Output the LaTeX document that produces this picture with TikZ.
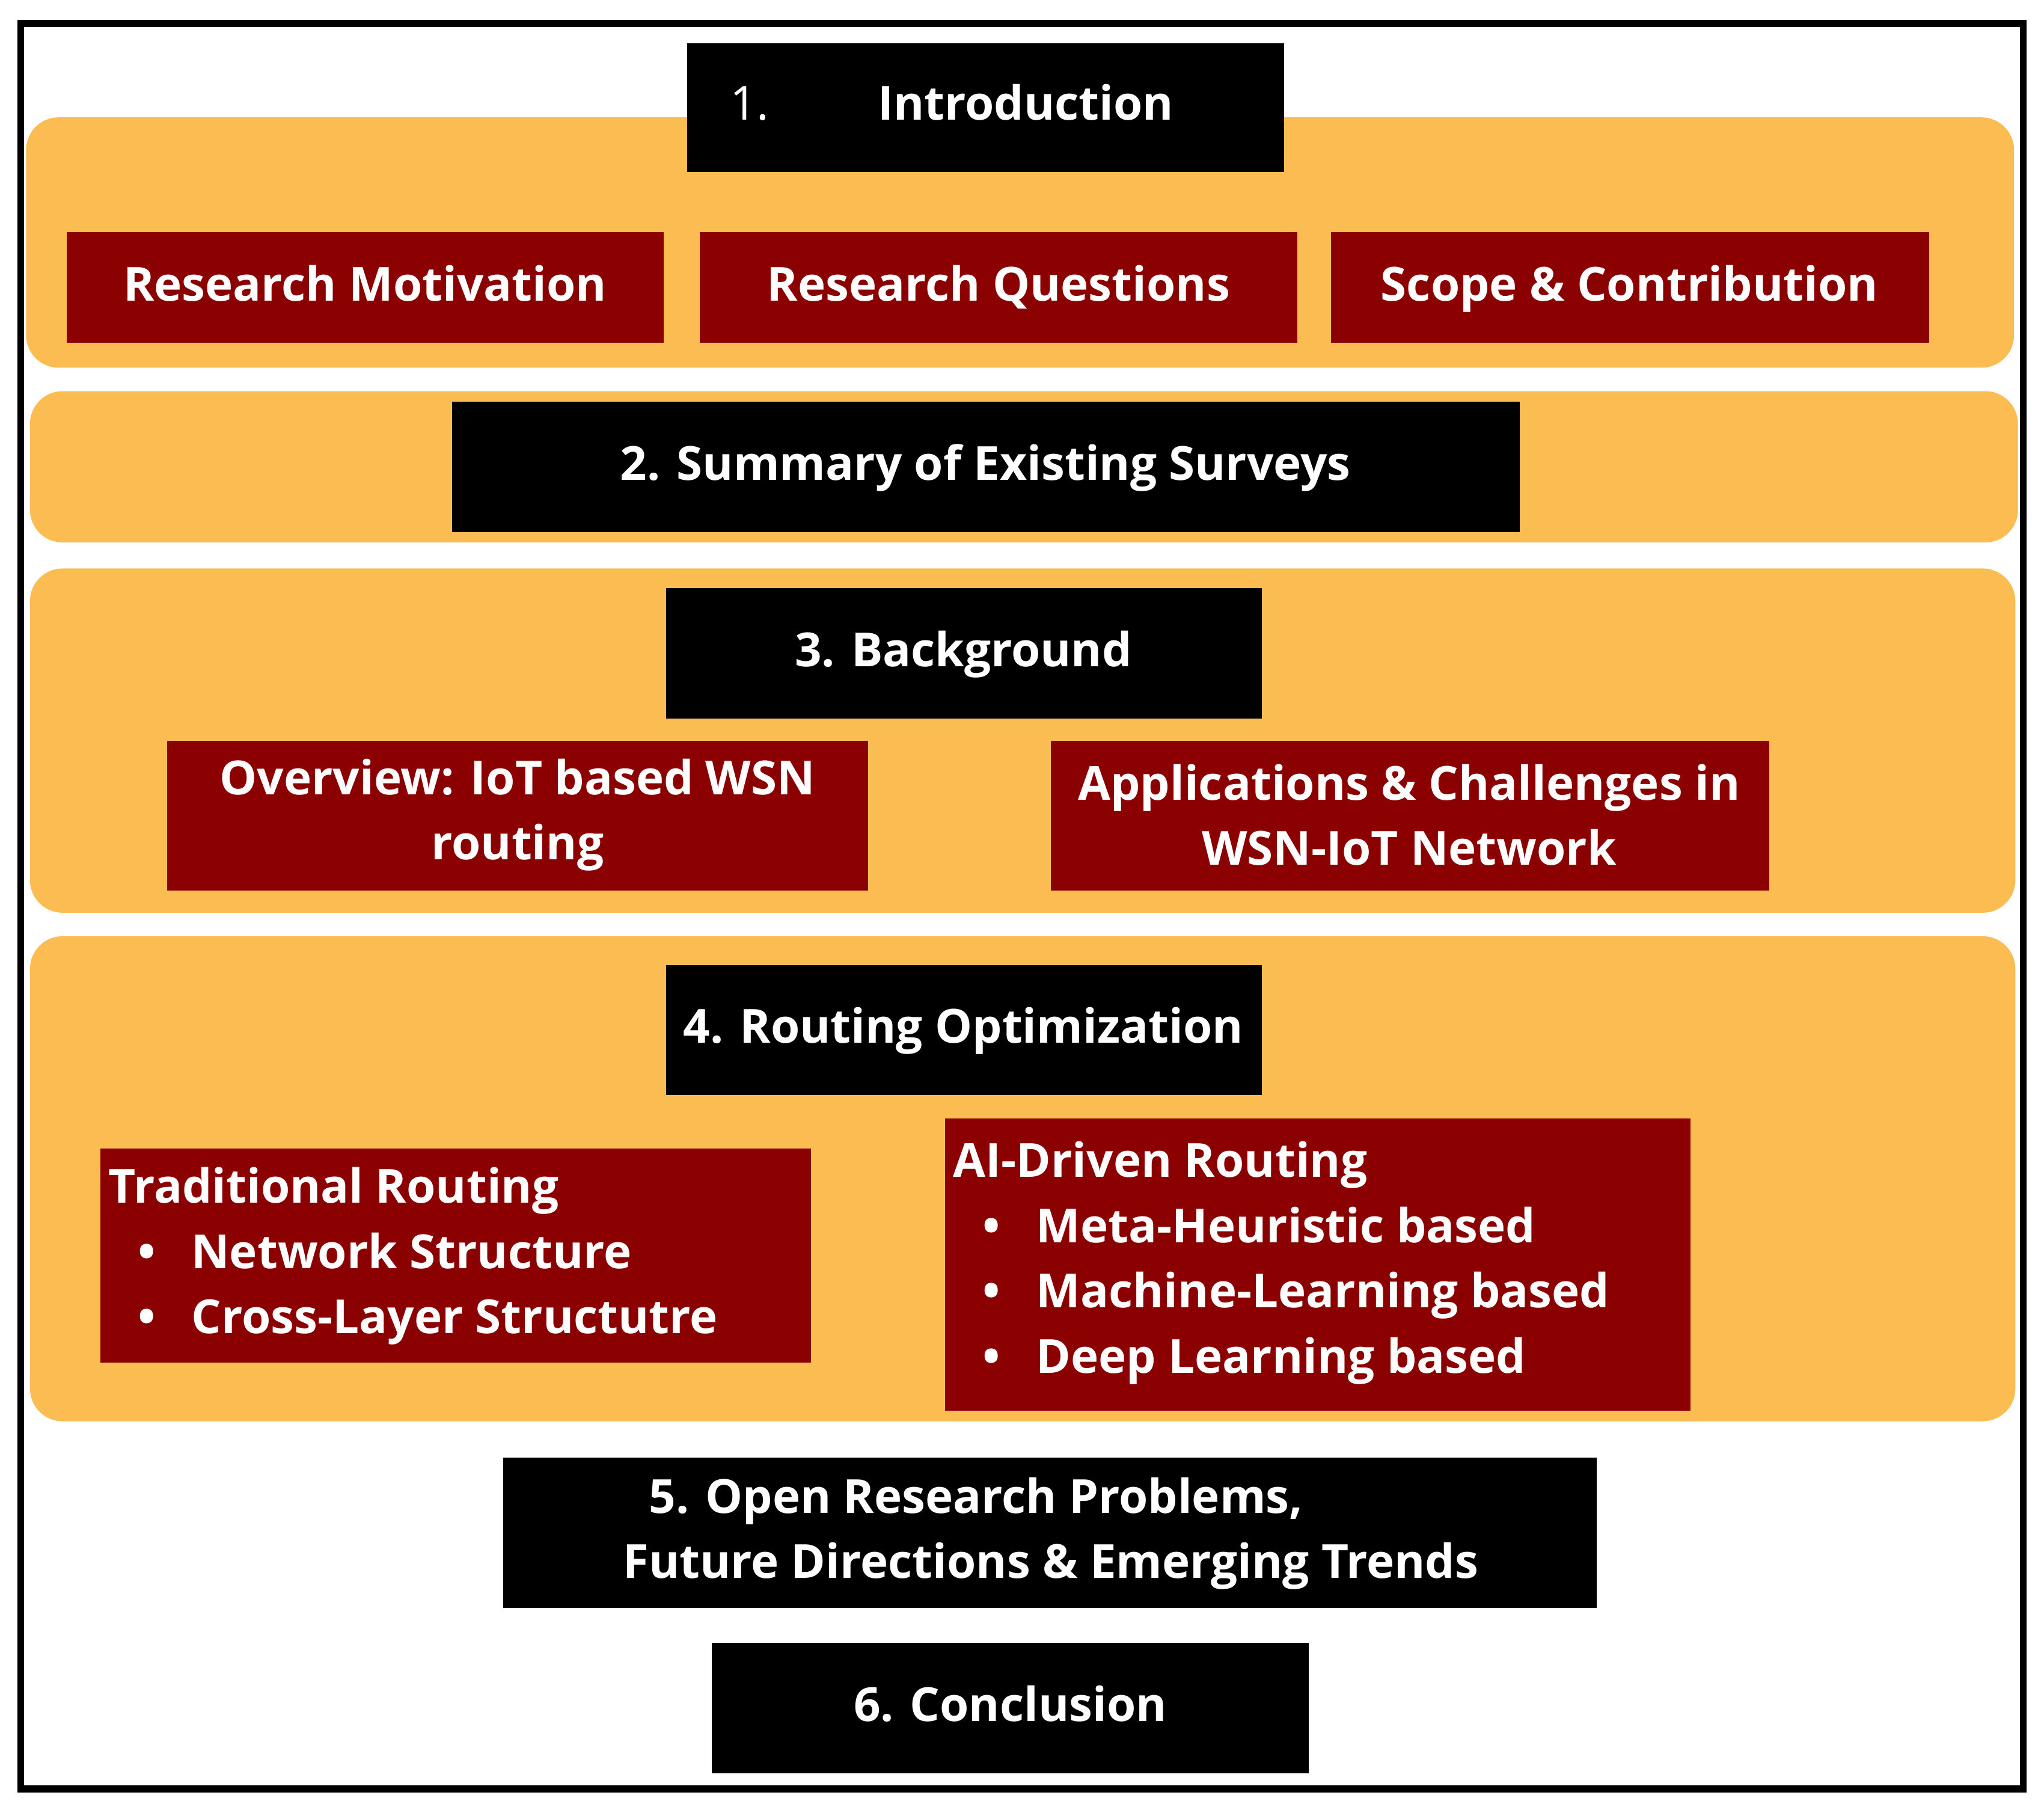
\documentclass[tikz,border=0pt]{standalone}
\usepackage{fontspec}
\setmainfont{Open Sans}
\definecolor{band}{HTML}{FBBC52}
\definecolor{dred}{HTML}{8B0000}
\begin{document}
\begin{tikzpicture}[x=0.02cm,y=-0.02cm,
  blk/.style={fill=black,draw=none},
  red/.style={fill=dred,draw=none},
  txt/.style={text=white,font=\fontsize{20.5}{28.5}\selectfont\bfseries,align=center,inner sep=0},
  stxt/.style={txt,execute at begin node=\strut},
  ltxt/.style={text=white,font=\fontsize{20.5}{28.5}\selectfont\bfseries,align=left,inner sep=0,anchor=north west}]
\useasboundingbox (0,0) rectangle (1568,1390);
\fill[white] (0,0) rectangle (1568,1390);
\draw[line width=3pt] (16,18) rectangle (1552,1372);
% bands
\fill[band,rounded corners=0.5cm] (20,90) rectangle (1545,282);
\fill[band,rounded corners=0.5cm] (23,300) rectangle (1548,416);
\fill[band,rounded corners=0.5cm] (23,436) rectangle (1546,700);
\fill[band,rounded corners=0.5cm] (23,718) rectangle (1546,1090);
% intro
\fill[blk] (527,33) rectangle (985,132);
\node[stxt,font=\fontsize{20.5}{28.5}\selectfont] (n1) at (575,82) {1.};
\node[stxt] (intro) at (787,82) {Introduction};
\fill[red] (51,178) rectangle (509,263);
\node[stxt] (rm) at (280,221) {Research Motivation};
\fill[red] (537,178) rectangle (995,263);
\node[stxt] (rq) at (766,221) {Research Questions};
\fill[red] (1021,178) rectangle (1480,263);
\node[stxt] (sc) at (1250,221) {Scope \& Contribution};
% 2
\fill[blk] (347,308) rectangle (1166,408);
\node[stxt] (s2) at (756,358) {2. Summary of Existing Surveys};
% 3
\fill[blk] (511,451) rectangle (968,551);
\node[stxt] (s3) at (739,501) {3. Background};
\fill[red] (128,568) rectangle (666,683);
\node[txt] (ov) at (397,625) {Overview: IoT based WSN\\routing};
\fill[red] (806,568) rectangle (1357,683);
\node[txt] (ap) at (1081,625) {Applications \& Challenges in\\WSN-IoT Network};
% 4
\fill[blk] (511,740) rectangle (968,840);
\node[stxt] (s4) at (739,790) {4. Routing Optimization};
\fill[red] (77,881) rectangle (622,1045);
\node[ltxt] (tr) at (83,895) {Traditional Routing\\
\hspace*{0.45cm}\textbullet\hspace{0.55cm}Network Structure\\
\hspace*{0.45cm}\textbullet\hspace{0.55cm}Cross-Layer Structutre};
\fill[red] (725,858) rectangle (1297,1082);
\node[ltxt] (ai) at (731,875) {AI-Driven Routing\\
\hspace*{0.45cm}\textbullet\hspace{0.55cm}Meta-Heuristic based\\
\hspace*{0.45cm}\textbullet\hspace{0.55cm}Machine-Learning based\\
\hspace*{0.45cm}\textbullet\hspace{0.55cm}Deep Learning based};
% 5
\fill[blk] (386,1118) rectangle (1225,1233);
\node[txt,align=left] (s5) at (806,1176) {\hspace*{0.4cm}5. Open Research Problems,\\Future Directions \& Emerging Trends};
% 6
\fill[blk] (546,1260) rectangle (1004,1360);
\node[stxt] (s6) at (775,1310) {6. Conclusion};
\end{tikzpicture}
\end{document}
